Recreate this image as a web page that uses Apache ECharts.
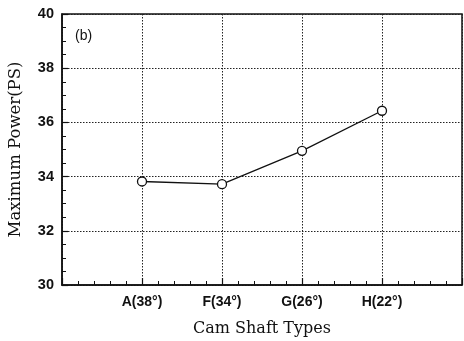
<!DOCTYPE html>
<html><head><meta charset="utf-8">
<script src="https://cdn.jsdelivr.net/npm/echarts@6/dist/echarts.min.js"></script>
<style>html,body{margin:0;padding:0;background:#fff}#c{width:464px;height:341px}</style>
</head><body><div id="c"></div>
<script>
const categories = ["A(38°)", "F(34°)", "G(26°)", "H(22°)"];
const maxPower = [33.82, 33.72, 34.95, 36.43];
const yTicks = [30, 32, 34, 36, 38, 40];

const chart = echarts.init(document.getElementById('c'), null, {renderer: 'canvas'});
const points = categories.map((c, i) => [i + 1, maxPower[i]]);
chart.setOption({
  animation: false,
  backgroundColor: '#fff',
  grid: {left: 62, right: 2, top: 14, bottom: 56, containLabel: false, outerBoundsMode: 'none', show: true, borderColor: '#111', borderWidth: 1.5, backgroundColor: 'transparent'},
  graphic: [{type: 'text', left: 75, top: 29, style: {text: '(b)', font: '14px "Liberation Sans", Arial, sans-serif', fill: '#111'}}],
  xAxis: {
    type: 'value', min: 0, max: 5, interval: 1,
    name: 'Cam Shaft Types', nameLocation: 'middle', nameGap: 36,
    nameTextStyle: {fontFamily: '"DejaVu Serif", serif', fontSize: 16, color: '#111'},
    axisLine: {show: true, lineStyle: {color: '#111', width: 1.5}},
    axisTick: {show: true, inside: true, length: 7, lineStyle: {color: '#111', width: 1.2}},
    minorTick: {show: true, splitNumber: 5, length: 4, lineStyle: {color: '#111', width: 1}},
    axisLabel: {formatter: v => (v >= 1 && v <= categories.length) ? categories[v - 1] : '', fontFamily: '"Liberation Sans", Arial, sans-serif', fontSize: 14, fontWeight: 'bold', color: '#111', margin: 10},
    splitLine: {show: true, lineStyle: {type: [1.5, 1.5], color: '#222', width: 1}}
  },
  yAxis: {
    type: 'value', min: yTicks[0], max: yTicks[yTicks.length - 1], interval: 2,
    name: 'Maximum Power(PS)', nameLocation: 'middle', nameGap: 38,
    nameTextStyle: {fontFamily: '"DejaVu Serif", serif', fontSize: 16.5, color: '#111'},
    axisLine: {show: true, lineStyle: {color: '#111', width: 1.5}},
    axisTick: {show: true, inside: true, length: 6, lineStyle: {color: '#111', width: 1.2}},
    minorTick: {show: true, splitNumber: 4, length: 4, lineStyle: {color: '#111', width: 1}},
    axisLabel: {fontFamily: '"Liberation Sans", Arial, sans-serif', fontSize: 14.5, fontWeight: 'bold', color: '#111', margin: 8},
    splitLine: {show: true, lineStyle: {type: [1.5, 1.5], color: '#222', width: 1}}
  },
  series: [{
    type: 'line', data: points,
    symbol: 'circle', symbolSize: 9,
    itemStyle: {color: '#fff', borderColor: '#111', borderWidth: 1.3},
    lineStyle: {color: '#111', width: 1.3}
  }]
});
</script></body></html>
